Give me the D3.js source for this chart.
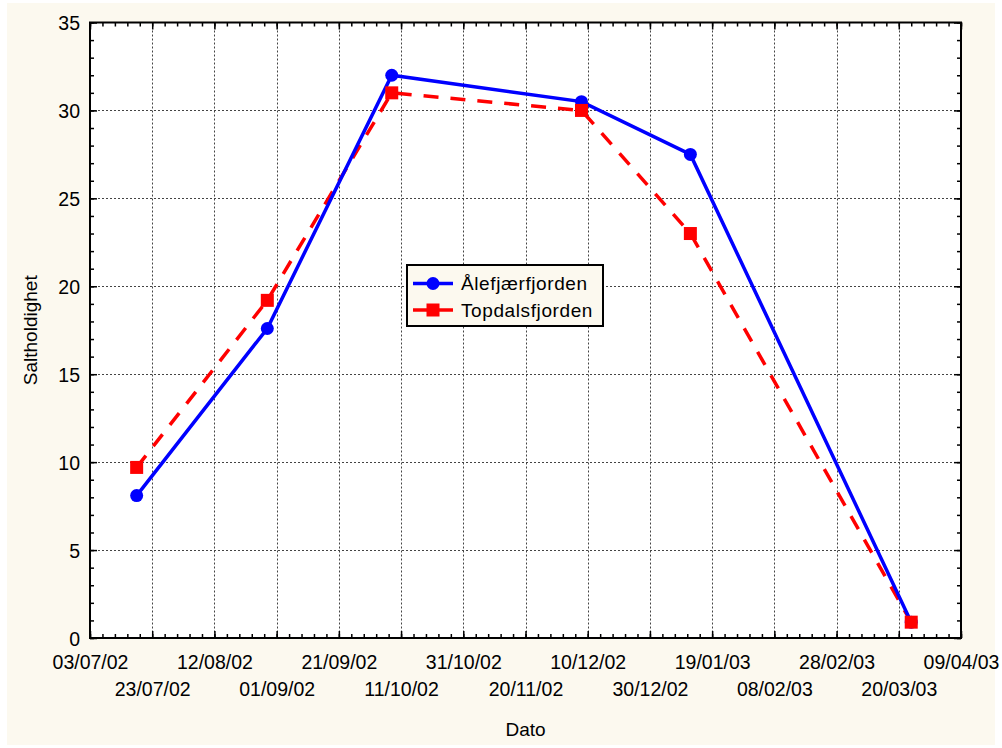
<!DOCTYPE html>
<html>
<head>
<meta charset="utf-8">
<script src="https://cdn.jsdelivr.net/npm/d3@7"></script>
<style>
  body { margin: 0; background: #fff; }
  text { font-family: "Liberation Sans", Arial, sans-serif; fill: #000; }
</style>
</head>
<body>
<div id="viz"></div>
<script>
var sampleDates = ["18/07/02", "29/08/02", "08/10/02", "08/12/02", "12/01/03", "24/03/03"];
var alefjaer = [8.1, 17.6, 32.0, 30.5, 27.5, 0.9];
var topdals = [9.7, 19.2, 31.0, 30.0, 23.0, 0.9];
var xTickLabels = ["03/07/02", "23/07/02", "12/08/02", "01/09/02", "21/09/02", "11/10/02",
  "31/10/02", "20/11/02", "10/12/02", "30/12/02", "19/01/03", "08/02/03",
  "28/02/03", "20/03/03", "09/04/03"];
var yTicks = [0, 5, 10, 15, 20, 25, 30, 35];
var seriesNames = ["Ålefjærfjorden", "Topdalsfjorden"];

var w = 1002, h = 748;
var parse = d3.timeParse("%d/%m/%y");
var pLeft = 90, pRight = 961, pTop = 22.5, pBottom = 638;

var svg = d3.select("#viz").append("svg")
  .attr("width", w)
  .attr("height", h);

// cream background panel
svg.append("rect")
  .attr("x", 7).attr("y", 3)
  .attr("width", 988).attr("height", 742)
  .attr("fill", "#fcf9ef");

var xTicks = xTickLabels.map(parse);
var x = d3.scaleTime()
  .domain([xTicks[0], xTicks[xTicks.length - 1]])
  .range([pLeft, pRight]);
var y = d3.scaleLinear().domain([0, 35]).range([pBottom, pTop]);

svg.append("rect")
  .attr("x", pLeft).attr("y", pTop)
  .attr("width", pRight - pLeft).attr("height", pBottom - pTop)
  .attr("fill", "#fff");

// grid
var grid = svg.append("g")
  .attr("stroke", "#444")
  .attr("stroke-width", 1)
  .attr("stroke-dasharray", "2,2");
xTicks.slice(1, -1).forEach(function(d) {
  grid.append("line")
    .attr("x1", Math.round(x(d)) + 0.5).attr("x2", Math.round(x(d)) + 0.5)
    .attr("y1", pTop).attr("y2", pBottom);
});
yTicks.slice(1, -1).forEach(function(v) {
  grid.append("line")
    .attr("x1", pLeft).attr("x2", pRight)
    .attr("y1", Math.round(y(v)) + 0.5).attr("y2", Math.round(y(v)) + 0.5);
});

// minor ticks every 4 days / every 1 unit
var minorX = d3.range(0, 281, 4).map(function(n) { return d3.timeDay.offset(xTicks[0], n); });
var minorY = d3.range(0, 36, 1);

function addAxis(axis, tx, ty) {
  var g = svg.append("g").attr("transform", "translate(" + tx + "," + ty + ")").call(axis);
  g.select(".domain").remove();
  g.selectAll("line").attr("stroke", "#000").attr("stroke-width", 1.5);
  return g;
}

addAxis(d3.axisBottom(x).tickValues(minorX).tickSize(-4).tickFormat(""), 0, pBottom);
addAxis(d3.axisTop(x).tickValues(minorX).tickSize(-4).tickFormat(""), 0, pTop);
addAxis(d3.axisLeft(y).tickValues(minorY).tickSize(-4).tickFormat(""), pLeft, 0);
addAxis(d3.axisRight(y).tickValues(minorY).tickSize(-4).tickFormat(""), pRight, 0);

var xAxis = addAxis(d3.axisBottom(x).tickValues(xTicks).tickSize(-7)
  .tickFormat(function(d, i) { return xTickLabels[i]; }), 0, pBottom);
xAxis.selectAll("text")
  .attr("font-size", "19.5px")
  .attr("font-family", "Liberation Sans, Arial, sans-serif")
  .attr("fill", "#000")
  .attr("y", function(d, i) { return i % 2 === 0 ? 31 : 58; })
  .attr("dy", 0);
addAxis(d3.axisTop(x).tickValues(xTicks).tickSize(-7).tickFormat(""), 0, pTop);

var yAxis = addAxis(d3.axisLeft(y).tickValues(yTicks).tickSize(-7), pLeft, 0);
yAxis.selectAll("text")
  .attr("font-size", "19.5px")
  .attr("font-family", "Liberation Sans, Arial, sans-serif")
  .attr("fill", "#000")
  .attr("x", -10)
  .attr("dy", "0.36em");
addAxis(d3.axisRight(y).tickValues(yTicks).tickSize(-7).tickFormat(""), pRight, 0);

// frame
svg.append("rect")
  .attr("x", pLeft).attr("y", pTop)
  .attr("width", pRight - pLeft).attr("height", pBottom - pTop)
  .attr("fill", "none")
  .attr("stroke", "#000")
  .attr("stroke-width", 2);

// axis titles
svg.append("text")
  .attr("x", (pLeft + pRight) / 2).attr("y", 736)
  .attr("text-anchor", "middle")
  .attr("font-size", "19px")
  .text("Dato");
svg.append("text")
  .attr("transform", "translate(37," + (pTop + pBottom) / 2 + ") rotate(-90)")
  .attr("text-anchor", "middle")
  .attr("font-size", "19px")
  .text("Saltholdighet");

// series
var dates = sampleDates.map(parse);
var line = d3.line()
  .x(function(d, i) { return x(dates[i]); })
  .y(function(d) { return y(d); });

svg.append("path")
  .datum(topdals)
  .attr("d", line)
  .attr("fill", "none")
  .attr("stroke", "#ff0000")
  .attr("stroke-width", 3.5)
  .attr("stroke-dasharray", "15,12");

svg.append("path")
  .datum(alefjaer)
  .attr("d", line)
  .attr("fill", "none")
  .attr("stroke", "#0000ff")
  .attr("stroke-width", 3.5);

svg.selectAll("circle.a")
  .data(alefjaer)
  .enter().append("circle")
  .attr("cx", function(d, i) { return x(dates[i]); })
  .attr("cy", function(d) { return y(d); })
  .attr("r", 6.5)
  .attr("fill", "#0000ff");

svg.selectAll("rect.t")
  .data(topdals)
  .enter().append("rect")
  .attr("x", function(d, i) { return x(dates[i]) - 6.5; })
  .attr("y", function(d) { return y(d) - 6.5; })
  .attr("width", 13).attr("height", 13)
  .attr("fill", "#ff0000");

// legend
var lg = svg.append("g").attr("transform", "translate(407,265)");
lg.append("rect")
  .attr("width", 196).attr("height", 61)
  .attr("fill", "#fcf9ef")
  .attr("stroke", "#000")
  .attr("stroke-width", 2);
[0, 1].forEach(function(i) {
  var cy = i === 0 ? 18.5 : 45;
  var col = i === 0 ? "#0000ff" : "#ff0000";
  lg.append("line")
    .attr("x1", 6).attr("x2", 46)
    .attr("y1", cy).attr("y2", cy)
    .attr("stroke", col).attr("stroke-width", 3.5);
  if (i === 0) {
    lg.append("circle").attr("cx", 26).attr("cy", cy).attr("r", 6.5).attr("fill", col);
  } else {
    lg.append("rect").attr("x", 19.5).attr("y", cy - 6.5).attr("width", 13).attr("height", 13).attr("fill", col);
  }
  lg.append("text")
    .attr("x", 54).attr("y", cy)
    .attr("dy", "0.36em")
    .attr("font-size", "19px")
    .attr("letter-spacing", "0.6px")
    .text(seriesNames[i]);
});
</script>
</body>
</html>
